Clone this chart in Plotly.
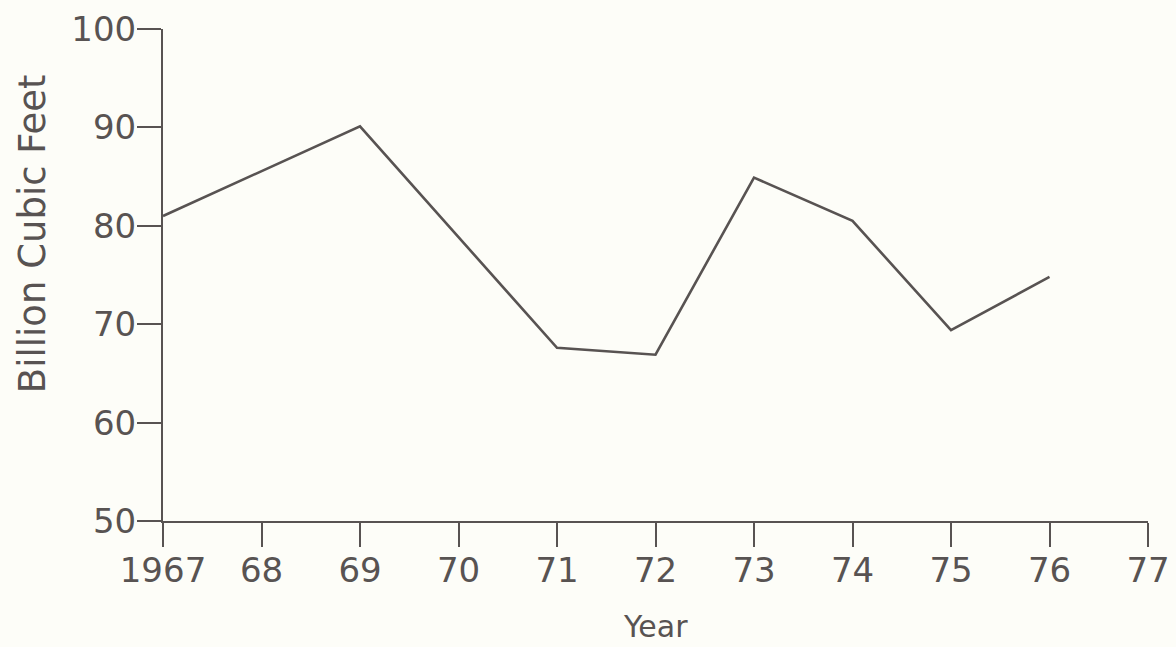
import plotly.graph_objects as go

years = [1967, 1969, 1971, 1972, 1973, 1974, 1975, 1976]
values = [81.0, 90.1, 67.6, 66.9, 84.9, 80.5, 69.4, 74.8]

x_tickvals = [1967, 1968, 1969, 1970, 1971, 1972, 1973, 1974, 1975, 1976, 1977]
x_ticktext = ["1967", "68", "69", "70", "71", "72", "73", "74", "75", "76", "77"]
y_tickvals = [50, 60, 70, 80, 90, 100]
y_ticktext = ["50", "60", "70", "80", "90", "100"]

ink = "#585352"
bg = "#fdfdf8"
font_family = "'DejaVu Sans', sans-serif"

fig = go.Figure()
fig.add_trace(go.Scatter(x=years, y=values, mode="lines",
                         line=dict(color=ink, width=2.6), showlegend=False,
                         hoverinfo="skip"))

axis_common = dict(showgrid=False, zeroline=False, showline=True, linecolor=ink,
                   linewidth=2, ticks="outside", ticklen=24, tickwidth=2,
                   tickcolor=ink, tickfont=dict(size=34, color=ink),
                   automargin=False, ticklabelstandoff=-6)

fig.update_layout(
    width=1176, height=647,
    margin=dict(l=163, r=28, t=29, b=126),
    paper_bgcolor=bg, plot_bgcolor=bg,
    font=dict(family=font_family, color=ink, size=34),
    xaxis=dict(range=[1967, 1977], tickvals=x_tickvals, ticktext=x_ticktext,
               **axis_common),
    yaxis=dict(range=[50, 100], tickvals=y_tickvals, ticktext=y_ticktext,
               **axis_common),
    annotations=[
        dict(text="Year", xref="paper", yref="paper", x=0.5, y=-0.215,
             xanchor="center", yanchor="middle", showarrow=False,
             font=dict(size=30, color=ink)),
        dict(text="Billion Cubic Feet", xref="paper", yref="paper",
             x=-0.133, y=0.585, xanchor="center", yanchor="middle",
             textangle=-90, showarrow=False, font=dict(size=37, color=ink)),
    ],
)

fig.write_html(
    "out.html",
    config={"displayModeBar": False},
    post_script=("document.body.style.margin='0';"
                 "document.body.style.overflow='hidden';"
                 "document.body.style.background='" + bg + "';"),
)
